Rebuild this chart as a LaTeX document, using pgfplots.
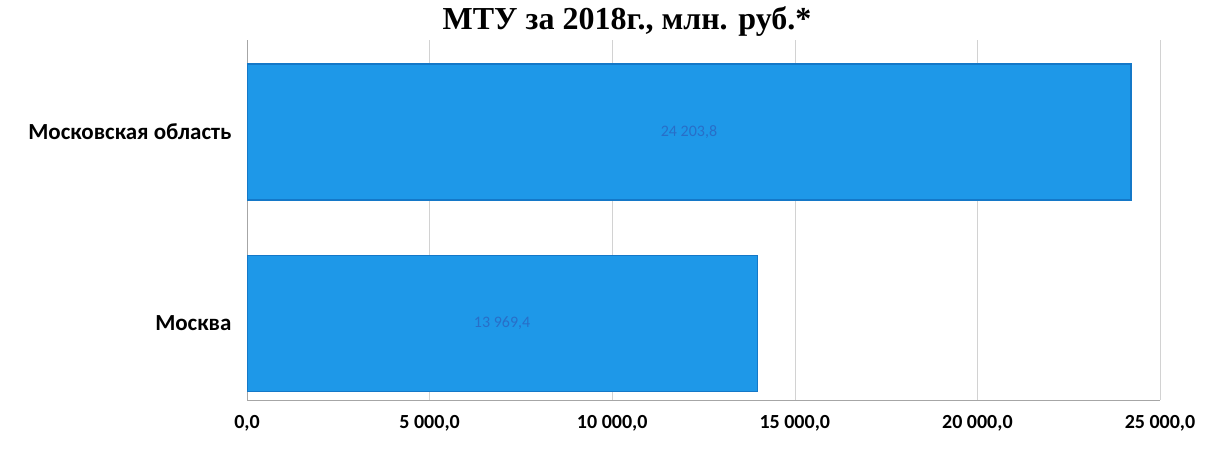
\documentclass[border=0pt]{standalone}
\usepackage{pgfplots}
\pgfplotsset{compat=1.18}
\usepackage{fontspec}
\setmainfont{Carlito}
\newfontfamily\titlefont{Liberation Serif}
\definecolor{barblue}{RGB}{30,152,232}
\definecolor{baredge}{RGB}{20,120,200}
\definecolor{lblblue}{RGB}{40,110,200}
\begin{document}
\begin{tikzpicture}[x=1pt,y=1pt]
\useasboundingbox (0,0) rectangle (1205,457);
\node[font=\titlefont\bfseries\fontsize{32}{34}\selectfont, anchor=base] at (627,427) {МТУ за 2018г., млн. руб.*};
\begin{axis}[
  at={(247pt,57pt)}, anchor=south west,
  scale only axis, width=913pt, height=360pt,
  xmin=0, xmax=25000, ymin=-0.40, ymax=1.48,
  ytick={0,1}, yticklabels={Москва, Московская область},
  xtick={0,5000,10000,15000,20000,25000},
  scaled ticks=false,
  xticklabels={{0,0},{5 000,0},{10 000,0},{15 000,0},{20 000,0},{25 000,0}},
  xmajorgrids, grid style={gray!35},
  axis x line*=bottom, axis y line*=left,
  axis line style={gray!70},
  major tick length=0pt,
  x tick label style={font=\bfseries\fontsize{20}{22}\selectfont, yshift=-12pt},
  y tick label style={font=\bfseries\fontsize{23}{26}\selectfont, xshift=-12pt},
]
\addplot[xbar, bar width=136pt, bar shift=0pt, fill=barblue, draw=baredge, line width=1.2pt] coordinates {(13969.4,0) (24203.8,1)};
\addplot[only marks, mark=none, nodes near coords, point meta=explicit symbolic,
  nodes near coords style={font=\fontsize{16}{18}\selectfont, text=lblblue, anchor=center}]
  coordinates {(6984.7,0) [13 969,4] (12101.9,1) [24 203,8]};
\end{axis}
\end{tikzpicture}
\end{document}
